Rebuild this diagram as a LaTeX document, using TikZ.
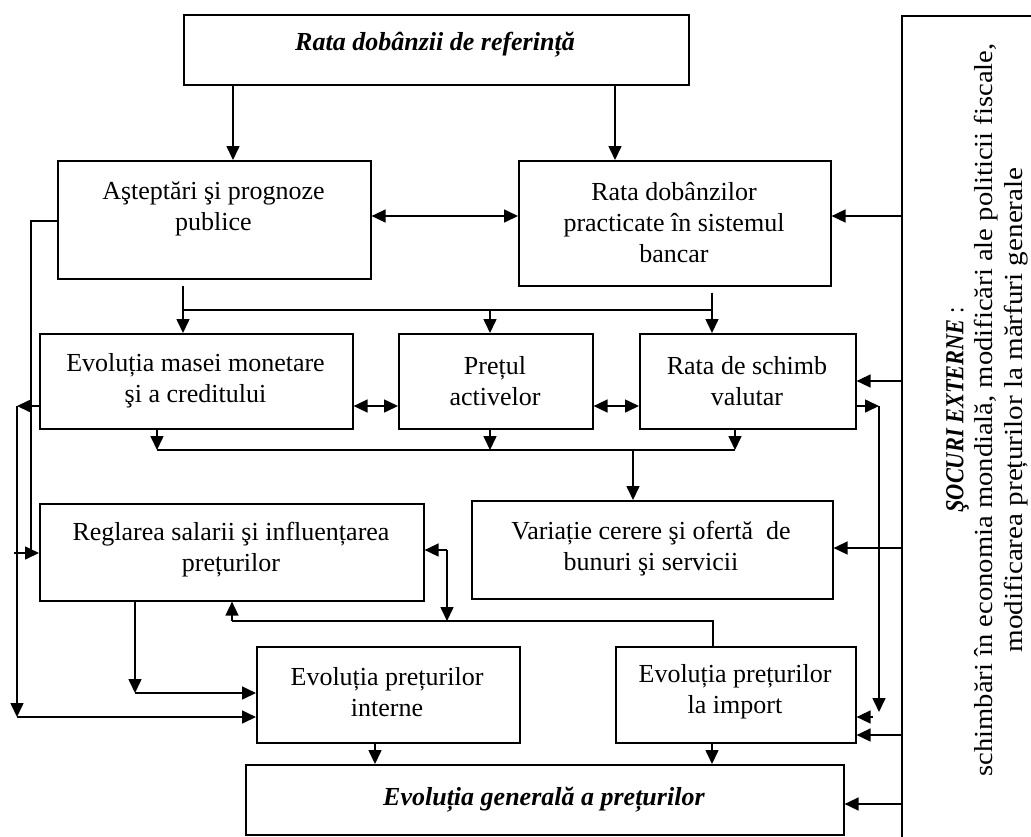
\documentclass[tikz,border=0pt]{standalone}
\usepackage{fontspec}
\setmainfont{Liberation Serif}
\usetikzlibrary{arrows.meta}
\begin{document}
\begin{tikzpicture}[x=1pt,y=-1pt,
  box/.style={draw, line width=1.6pt, inner sep=0pt, anchor=north west},
  txt/.style={align=center, inner sep=0pt, font=\fontsize{26}{31}\selectfont},
  ln/.style={line width=1.6pt},
  arr/.style={ln, -{Triangle[length=14pt,width=13pt]}},
  darr/.style={ln, {Triangle[length=14pt,width=13pt]}-{Triangle[length=14pt,width=13pt]}},
]
\useasboundingbox (0,0) rectangle (1031,836);
\clip (0,0) rectangle (1031,836);

% boxes
\node[box, minimum width=505pt, minimum height=70pt] (top) at (183,14) {};
\node[box, minimum width=313pt, minimum height=118pt] (A) at (57,160) {};
\node[box, minimum width=312pt, minimum height=125pt] (B) at (518,160) {};
\node[box, minimum width=313pt, minimum height=95pt] (C) at (39,333) {};
\node[box, minimum width=194pt, minimum height=95pt] (D) at (398,333) {};
\node[box, minimum width=216pt, minimum height=95pt] (E) at (639,333) {};
\node[box, minimum width=384pt, minimum height=97pt] (R) at (39,503) {};
\node[box, minimum width=361pt, minimum height=98pt] (V) at (471,500) {};
\node[box, minimum width=263pt, minimum height=96pt] (I) at (256,646) {};
\node[box, minimum width=240pt, minimum height=96pt] (M) at (615,646) {};
\node[box, minimum width=598pt, minimum height=70pt] (G) at (245,764) {};
\node[box, minimum width=300pt, minimum height=900pt] (S) at (901,15) {};

% texts
\node[txt] (topt) at (435,45) {\textbf{\textit{Rata dobânzii de referință}}};
\node[txt] (At) at (213.5,209) {Aşteptări şi prognoze\\publice};
\node[txt] (Bt) at (674,223) {Rata dobânzilor\\practicate în sistemul\\bancar};
\node[txt] (Ct) at (195.5,381) {Evoluția masei monetare\\şi a creditului};
\node[txt] (Dt) at (495,381) {Prețul\\activelor};
\node[txt] (Et) at (747,381) {Rata de schimb\\valutar};
\node[txt] (Rt) at (231,550) {Reglarea salarii şi influențarea\\prețurilor};
\node[txt] (Vt) at (651,549) {Variație cerere şi ofertă~ de\\bunuri şi servicii};
\node[txt] (It) at (387,692) {Evoluția prețurilor\\interne};
\node[txt] (Mt) at (735,692) {Evoluția prețurilor\\la import};
\node[txt] (Gt) at (544,800) {\textbf{\textit{Evoluția generală a prețurilor}}};
\node[txt, rotate=90, font=\fontsize{26}{29.5}\selectfont] (St) at (987,410)
  {\scalebox{0.86}[1]{\textbf{\textit{ŞOCURI EXTERNE}} :}\\
   \scalebox{1.1}[1]{schimbări în economia mondială, modificări ale politicii fiscale,}\\
   \scalebox{1.12}[1]{modificarea prețurilor la mărfuri generale}};

% junction points
\coordinate (xa) at (233,0);
\coordinate (xb) at (615,0);
\coordinate (y216) at (0,216);
\coordinate (y553) at (0,553);
\coordinate (x375) at (375,0);
\coordinate (x490) at (490,0);
\coordinate (x712) at (712,0);
\coordinate (x183) at (183,0);
\coordinate (j1) at (183,310);
\coordinate (j2) at (490,310);
\coordinate (j3) at (712,310);
\coordinate (y406) at (0,406);
\coordinate (y381) at (0,381);
\coordinate (k0) at (17,406);
\coordinate (k1) at (17,717);
\coordinate (e1) at (879,406);
\coordinate (e2) at (879,712);
\coordinate (e3) at (873,717);
\coordinate (b1) at (157,450);
\coordinate (b2) at (490,450);
\coordinate (b3) at (735,450);
\coordinate (b4) at (633,450);
\coordinate (y548) at (0,548);
\coordinate (r1) at (447,550);
\coordinate (r2) at (447,621);
\coordinate (h1) at (232,621);
\coordinate (h2) at (713,621);
\coordinate (d1) at (135,693);
\coordinate (y735) at (0,735);
\coordinate (y804) at (0,804);
\coordinate (a1) at (31,221);
\coordinate (a2) at (31,553);
\coordinate (a3) at (14,553);

% reference rate to the first row
\draw[arr] (top.south -| xa) -- (A.north -| xa);
\draw[arr] (top.south -| xb) -- (B.north -| xb);
\draw[darr] (A.east |- y216) -- (B.west |- y216);
\draw[arr] (S.west |- y216) -- (B.east |- y216);

% expectations to wage setting
\draw[ln] (A.west |- a1) -- (a1) -- (a2);
\draw[arr] (a3) -- (R.west |- y553);

% first row to the second row
\draw[ln, shorten <=6pt] (A.south -| x183) -- (j1);
\draw[ln, shorten <=6pt] (B.south -| x712) -- (j3);
\draw[ln] (j1) -- (j3);
\draw[arr] (j1) -- (C.north -| x183);
\draw[arr] (j2) -- (D.north -| x490);
\draw[arr] (j3) -- (E.north -| x712);
\draw[darr] (C.east |- y406) -- (D.west |- y406);
\draw[darr] (D.east |- y406) -- (E.west |- y406);

% money and credit to domestic prices
\draw[arr] (C.west |- k0) -- (k0);
\draw[arr] (k0) -- (k1);
\draw[arr] (k1) -- (I.west |- k1);

% exchange rate to import prices
\draw[arr] (S.west |- y381) -- (E.east |- y381);
\draw[arr] (E.east |- e1) -- (e1);
\draw[arr] (e1) -- (e2);
\draw[arr] (e3) -- (M.east |- e3);

% second row to demand and supply
\draw[arr] (C.south -| b1) -- (b1);
\draw[arr] (D.south -| b2) -- (b2);
\draw[arr] (E.south -| b3) -- (b3);
\draw[ln] (b1) -- (b3);
\draw[arr] (b4) -- (V.north -| b4);
\draw[arr] (S.west |- y548) -- (V.east |- y548);

% feedback loop between wages and prices
\draw[arr] (r1) -- (R.east |- r1);
\draw[arr] (r1) -- (r2);
\draw[arr] (h1) -- (R.south -| h1);
\draw[ln] (h1) -- (h2) -- (M.north -| h2);
\draw[arr] (R.south -| d1) -- (d1);
\draw[arr] (d1) -- (I.west |- d1);

% price components to the general price level
\draw[arr] (S.west |- y735) -- (M.east |- y735);
\draw[arr] (I.south -| x375) -- (G.north -| x375);
\draw[arr] (M.south -| x712) -- (G.north -| x712);
\draw[arr] (S.west |- y804) -- (G.east |- y804);
\end{tikzpicture}
\end{document}
